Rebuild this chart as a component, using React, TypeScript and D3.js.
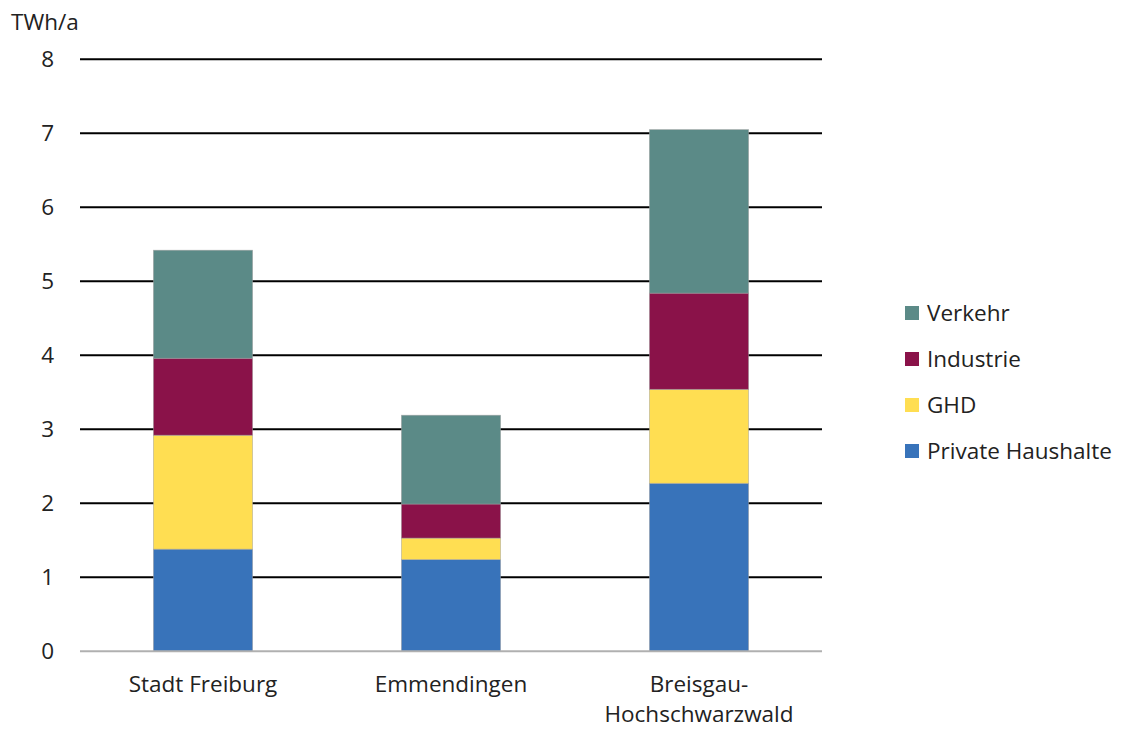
import React from "react";
import * as d3 from "d3";

const categories = ["Stadt Freiburg", "Emmendingen", "Breisgau-Hochschwarzwald"];
const categoryLines = [["Stadt Freiburg"], ["Emmendingen"], ["Breisgau-", "Hochschwarzwald"]];
const seriesNames = ["Private Haushalte", "GHD", "Industrie", "Verkehr"];
const privateHaushalte = [1.38, 1.24, 2.27];
const ghd = [1.54, 0.29, 1.27];
const industrie = [1.04, 0.46, 1.30];
const verkehr = [1.46, 1.20, 2.21];
const yTicks = [0, 1, 2, 3, 4, 5, 6, 7, 8];
const colors = ["#3873BA", "#FFDE52", "#8A1249", "#5B8A87"];

const W = 1124;
const H = 729;
const FONT = "'Open Sans', Lato, sans-serif";
const FS = 22.5;

export default function App() {
  const x = d3.scaleBand<string>().domain(categories).range([79, 823]).paddingInner(0.6).paddingOuter(0.3);
  const y = d3.scaleLinear().domain([0, 8]).range([651.3, 59.3]);

  const rows = categories.map((c, i) => ({
    cat: c,
    "Private Haushalte": privateHaushalte[i],
    GHD: ghd[i],
    Industrie: industrie[i],
    Verkehr: verkehr[i],
  }));
  const stack = d3.stack<any>().keys(seriesNames)(rows);

  const legendOrder = [...seriesNames].reverse();

  return (
    <svg width={W} height={H} style={{ position: "absolute", left: 0, top: 0, background: "#fff" }} fontFamily={FONT}>
      <text x={11} y={30} fontSize={FS} fill="#222">TWh/a</text>
      {yTicks.map((t) => (
        <g key={t}>
          {t > 0 && <line x1={80} x2={822} y1={y(t)} y2={y(t)} stroke="#000" strokeWidth={2} />}
          <text x={54} y={y(t)} dy="0.35em" textAnchor="end" fontSize={FS} fill="#222">{t}</text>
        </g>
      ))}
      {stack.map((s, si) =>
        s.map((d, i) => (
          <rect
            key={`${si}-${i}`}
            x={x(categories[i])!}
            width={x.bandwidth()}
            y={y(d[1])}
            height={y(d[0]) - y(d[1])}
            fill={colors[si]}
            stroke="rgba(160,160,160,0.6)"
            strokeWidth={0.8}
          />
        ))
      )}
      <line x1={80} x2={822} y1={y(0)} y2={y(0)} stroke="#b0b0b0" strokeWidth={2} />
      {categoryLines.map((lines, i) => (
        <text key={i} x={x(categories[i])! + x.bandwidth() / 2} y={692} textAnchor="middle" fontSize={FS} fill="#222">
          {lines.map((l, j) => (
            <tspan key={j} x={x(categories[i])! + x.bandwidth() / 2} dy={j === 0 ? 0 : 30}>{l}</tspan>
          ))}
        </text>
      ))}
      {legendOrder.map((name, i) => {
        const cy = 313 + i * 46;
        const ci = seriesNames.indexOf(name);
        return (
          <g key={name}>
            <rect x={905} y={cy - 7} width={14} height={14} fill={colors[ci]} />
            <text x={927} y={cy} dy="0.35em" fontSize={FS} fill="#222">{name}</text>
          </g>
        );
      })}
    </svg>
  );
}
